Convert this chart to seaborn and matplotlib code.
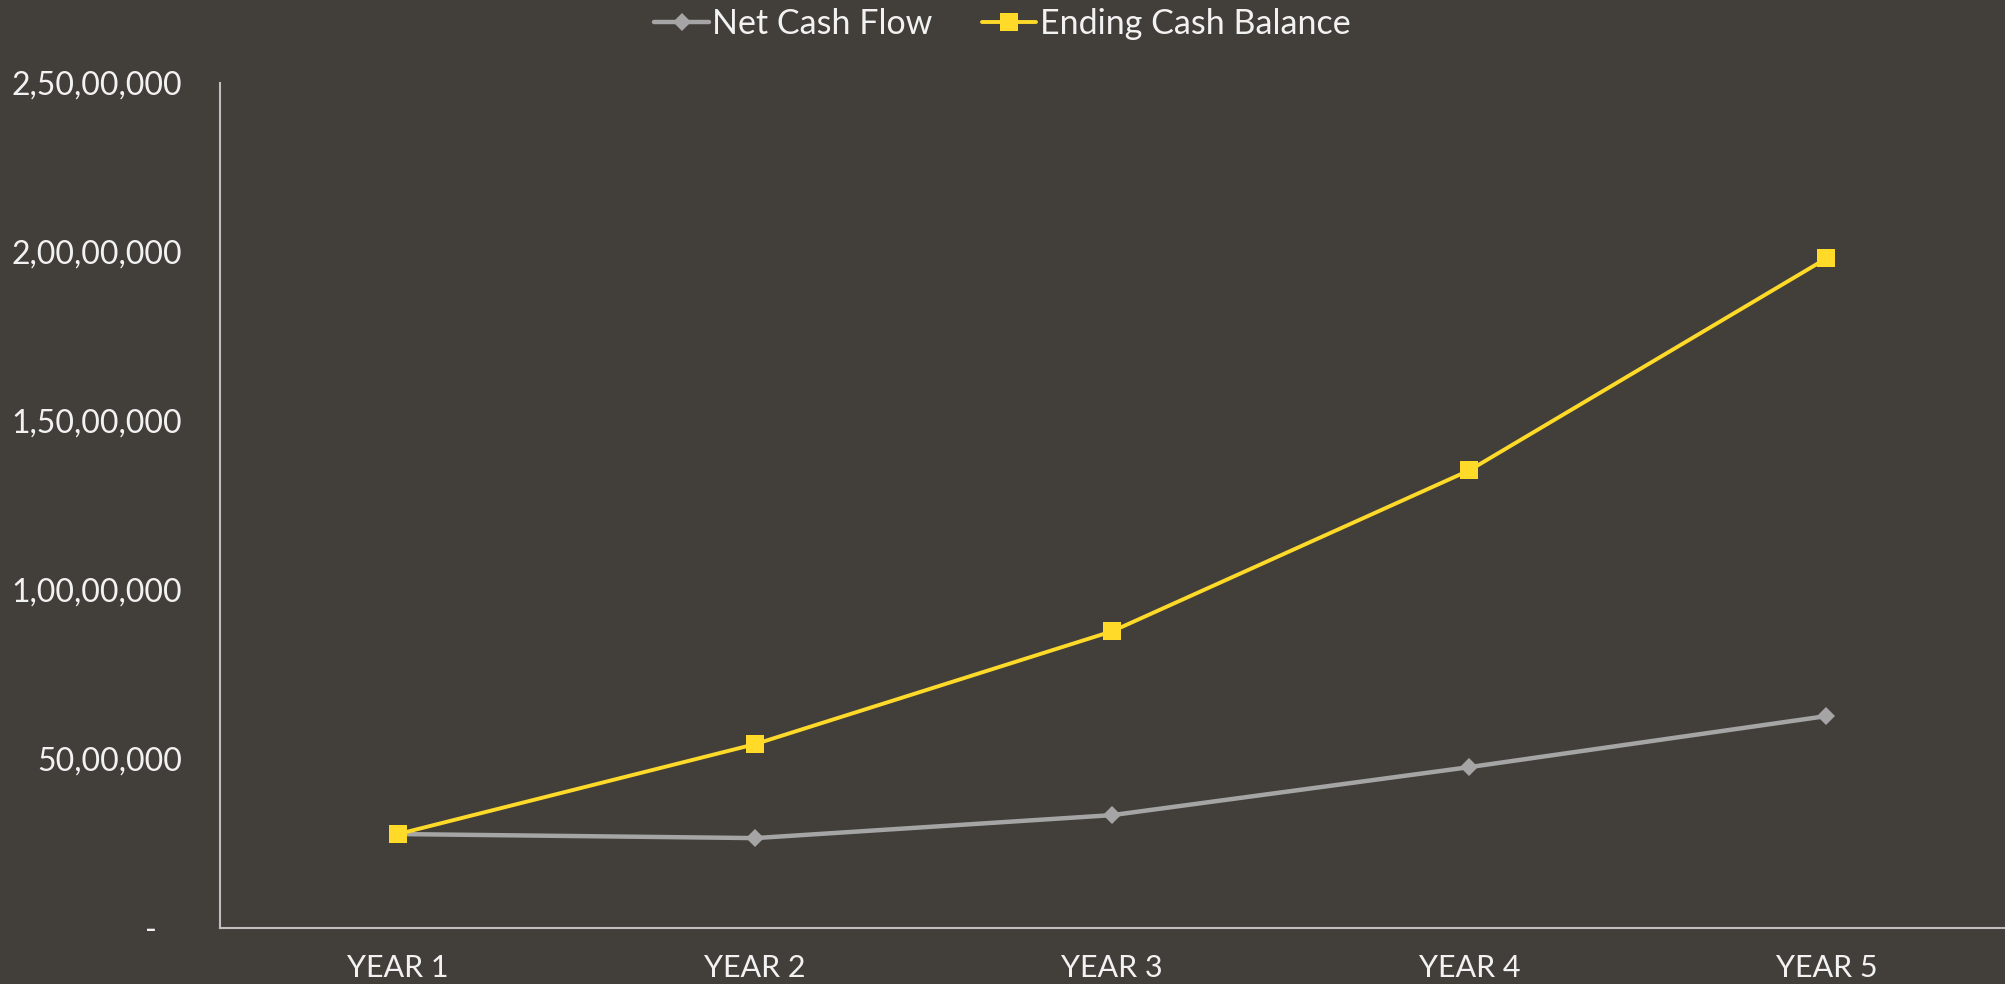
import pandas as pd
import numpy as np
import matplotlib.pyplot as plt
import seaborn as sns
from matplotlib.ticker import FuncFormatter

# ── data ──────────────────────────────────────────────────────────────────────
years = ['YEAR 1', 'YEAR 2', 'YEAR 3', 'YEAR 4', 'YEAR 5']
net_cash_flow = [2780000, 2660000, 3340000, 4760000, 6270000]
ending_cash_balance = [2780000, 5440000, 8780000, 13540000, 19810000]
y_ticks = [0, 5000000, 10000000, 15000000, 20000000, 25000000]

bg = '#423f3b'
txt = '#f2f2f2'
grey = '#a5a5a5'
yellow = '#ffda29'

sns.set_style('white', {'axes.facecolor': bg, 'figure.facecolor': bg})
plt.rcParams['font.family'] = ['Lato', 'DejaVu Sans']


def indian_fmt(v, pos=None):
    v = int(round(v))
    if v == 0:
        return '-   '
    s = str(v)
    last3, rest = s[-3:], s[:-3]
    groups = []
    while len(rest) > 2:
        groups.insert(0, rest[-2:])
        rest = rest[:-2]
    if rest:
        groups.insert(0, rest)
    return ','.join(groups + [last3])


df = pd.DataFrame({'year': years, 'ncf': net_cash_flow, 'ecb': ending_cash_balance})
df['x'] = np.arange(len(years))

fig = plt.figure(figsize=(20.05, 9.84), dpi=100)
ax = fig.add_axes([0.1095, 0.0569, 0.8905, 0.8588])

sns.lineplot(data=df, x='x', y='ncf', ax=ax, color=grey, lw=3.2, marker='D',
             markersize=9, markeredgewidth=0, label='Net Cash Flow')
sns.lineplot(data=df, x='x', y='ecb', ax=ax, color=yellow, lw=2.8, marker='s',
             markersize=13, markeredgewidth=0, label='Ending Cash Balance')

ax.set_xlim(-0.5, len(years) - 0.5)
ax.set_ylim(0, 25000000)
ax.set_xticks(df['x'])
ax.set_xticklabels(years)
ax.set_yticks(y_ticks)
ax.yaxis.set_major_formatter(FuncFormatter(indian_fmt))
ax.set_xlabel('')
ax.set_ylabel('')

for s in ['top', 'right']:
    ax.spines[s].set_visible(False)
for s in ['left', 'bottom']:
    ax.spines[s].set_color('#bfbfbf')
    ax.spines[s].set_linewidth(1.5)

ax.tick_params(axis='both', length=0, colors=txt, labelsize=23)
ax.tick_params(axis='y', pad=27)
ax.tick_params(axis='x', pad=19)
for t in ax.get_xticklabels():
    t.set_fontsize(22)

ax.legend(loc='center', bbox_to_anchor=(0.5, 1 - 24 / 984), bbox_transform=fig.transFigure,
          ncol=2, frameon=False, fontsize=24.5, labelcolor=txt, handlelength=1.6,
          handletextpad=0.1, columnspacing=1.45)

fig.savefig('out.png', dpi=100, facecolor=bg)
